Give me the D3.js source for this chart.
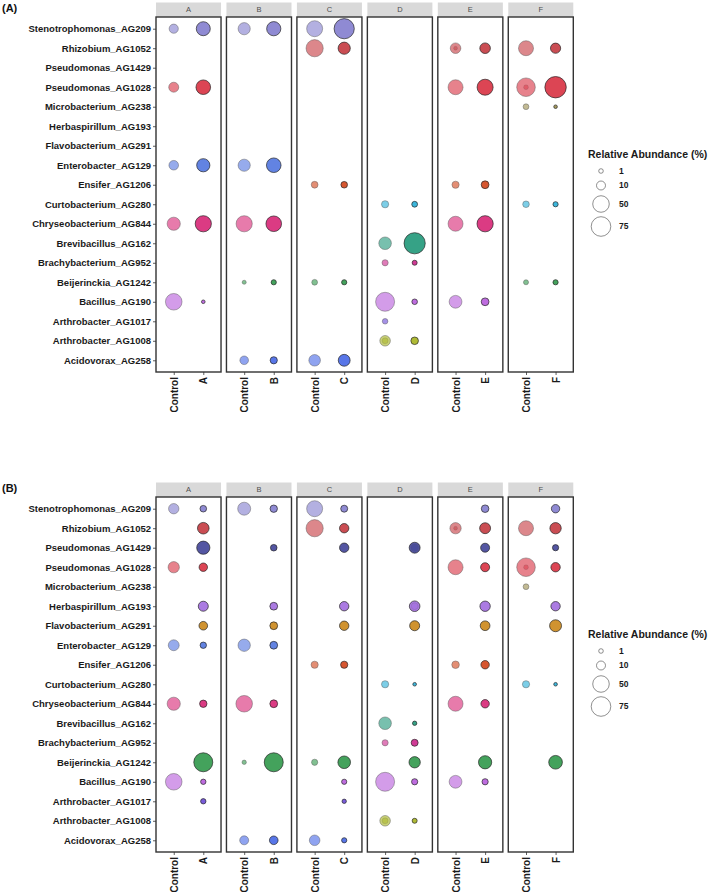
<!DOCTYPE html>
<html><head><meta charset="utf-8">
<script src="https://cdn.jsdelivr.net/npm/d3@7"></script>
<style>body{margin:0;background:#fff;} svg{display:block;font-family:"Liberation Sans",Arial,sans-serif;}</style>
</head><body>
<svg id="chart" width="709" height="895"></svg>
<script>
const species = ["Stenotrophomonas_AG209","Rhizobium_AG1052","Pseudomonas_AG1429","Pseudomonas_AG1028","Microbacterium_AG238","Herbaspirillum_AG193","Flavobacterium_AG291","Enterobacter_AG129","Ensifer_AG1206","Curtobacterium_AG280","Chryseobacterium_AG844","Brevibacillus_AG162","Brachybacterium_AG952","Beijerinckia_AG1242","Bacillus_AG190","Arthrobacter_AG1017","Arthrobacter_AG1008","Acidovorax_AG258"];
const speciesColors = ["#8580cf","#c63e44","#45489a","#d93545","#9c9050","#a470e0","#cc8a1e","#5578e0","#d2481e","#2bb0d8","#d82a78","#259a7c","#cc2a8c","#349a4e","#b860dc","#6e4ed6","#a8b424","#4a6ae6"];
const facets = ["A","B","C","D","E","F"];
const groups = ["Control","Treatment"];
const legendValues = [1,10,50,75];
const panelLabels = ["(A)","(B)"];

// [facet, group (C = Control, T = treatment), species, relative abundance %]
const panelAData = [
["A","C","Stenotrophomonas_AG209",10.7],["A","T","Stenotrophomonas_AG209",33.1],
["A","C","Pseudomonas_AG1028",13.6],["A","T","Pseudomonas_AG1028",36.7],
["A","C","Enterobacter_AG129",12.1],["A","T","Enterobacter_AG129",28.5],
["A","C","Chryseobacterium_AG844",28.5],["A","T","Chryseobacterium_AG844",47.5],
["A","C","Bacillus_AG190",50.4],["A","T","Bacillus_AG190",0.4],
["B","C","Stenotrophomonas_AG209",23.2],["B","T","Stenotrophomonas_AG209",34.3],
["B","C","Enterobacter_AG129",23.2],["B","T","Enterobacter_AG129",36.7],
["B","C","Chryseobacterium_AG844",47.5],["B","T","Chryseobacterium_AG844",43.3],
["B","C","Beijerinckia_AG1242",0.6],["B","T","Beijerinckia_AG1242",1.6],
["B","C","Acidovorax_AG258",8.8],["B","T","Acidovorax_AG258",5.1],
["C","C","Stenotrophomonas_AG209",46.1],["C","T","Stenotrophomonas_AG209",80.4],
["C","C","Rhizobium_AG1052",54.9],["C","T","Rhizobium_AG1052",23.2],
["C","C","Ensifer_AG1206",4.2],["C","T","Ensifer_AG1206",3.8],
["C","C","Beijerinckia_AG1242",2.4],["C","T","Beijerinckia_AG1242",1.6],
["C","C","Acidovorax_AG258",20.3],["C","T","Acidovorax_AG258",21.5],
["D","C","Curtobacterium_AG280",5.1],["D","T","Curtobacterium_AG280",2.4],
["D","C","Brevibacillus_AG162",25.3],["D","T","Brevibacillus_AG162",90],
["D","C","Brachybacterium_AG952",3.1],["D","T","Brachybacterium_AG952",1.4],
["D","C","Bacillus_AG190",69.6],["D","T","Bacillus_AG190",2.1],
["D","C","Arthrobacter_AG1017",2.1],
["D","C","Arthrobacter_AG1008",15.9],["D","T","Arthrobacter_AG1008",6.0],
["E","C","Rhizobium_AG1052",15.9],["E","T","Rhizobium_AG1052",15.9],
["E","C","Pseudomonas_AG1028",39.3],["E","T","Pseudomonas_AG1028",46.1],
["E","C","Ensifer_AG1206",5.1],["E","T","Ensifer_AG1206",6.5],
["E","C","Chryseobacterium_AG844",39.3],["E","T","Chryseobacterium_AG844",47.5],
["E","C","Bacillus_AG190",26.3],["E","T","Bacillus_AG190",6.5],
["F","C","Rhizobium_AG1052",39.3],["F","T","Rhizobium_AG1052",14.3],
["F","C","Pseudomonas_AG1028",66.2],["F","T","Pseudomonas_AG1028",92],
["F","C","Microbacterium_AG238",2.4],["F","T","Microbacterium_AG238",0.4],
["F","C","Curtobacterium_AG280",3.8],["F","T","Curtobacterium_AG280",1.6],
["F","C","Beijerinckia_AG1242",1.4],["F","T","Beijerinckia_AG1242",1.6]
];
// overlapping second replicate points (appear as darker inner circles)
const panelAOverlap = [
["E","C","Rhizobium_AG1052",0.5],
["F","C","Pseudomonas_AG1028",1.2],
["D","C","Arthrobacter_AG1008",2.8]
];

const panelBData = [
["A","C","Stenotrophomonas_AG209",15],["A","T","Stenotrophomonas_AG209",3.8],
["A","T","Rhizobium_AG1052",20.3],
["A","T","Pseudomonas_AG1429",28.5],
["A","C","Pseudomonas_AG1028",19],["A","T","Pseudomonas_AG1028",8.2],
["A","T","Herbaspirillum_AG193",13.6],
["A","T","Flavobacterium_AG291",8.8],
["A","C","Enterobacter_AG129",17.3],["A","T","Enterobacter_AG129",3.4],
["A","C","Chryseobacterium_AG844",28.5],["A","T","Chryseobacterium_AG844",5.5],
["A","T","Beijerinckia_AG1242",69.6],
["A","C","Bacillus_AG190",50.4],["A","T","Bacillus_AG190",1.8],
["A","T","Arthrobacter_AG1017",1.8],
["B","C","Stenotrophomonas_AG209",27.4],["B","T","Stenotrophomonas_AG209",5.5],
["B","T","Pseudomonas_AG1429",3.8],
["B","T","Herbaspirillum_AG193",6.5],
["B","T","Flavobacterium_AG291",6.5],
["B","C","Enterobacter_AG129",24],["B","T","Enterobacter_AG129",6.5],
["B","C","Chryseobacterium_AG844",50.4],["B","T","Chryseobacterium_AG844",6.5],
["B","C","Beijerinckia_AG1242",0.8],["B","T","Beijerinckia_AG1242",69.6],
["B","C","Acidovorax_AG258",10],["B","T","Acidovorax_AG258",8.8],
["C","C","Stenotrophomonas_AG209",46.1],["C","T","Stenotrophomonas_AG209",4.6],
["C","C","Rhizobium_AG1052",54.9],["C","T","Rhizobium_AG1052",11.3],
["C","T","Pseudomonas_AG1429",11.3],
["C","T","Herbaspirillum_AG193",11.3],
["C","T","Flavobacterium_AG291",11.3],
["C","C","Ensifer_AG1206",5.1],["C","T","Ensifer_AG1206",5.1],
["C","C","Beijerinckia_AG1242",3.1],["C","T","Beijerinckia_AG1242",25.3],
["C","T","Bacillus_AG190",1.6],
["C","T","Arthrobacter_AG1017",0.8],
["C","C","Acidovorax_AG258",15.9],["C","T","Acidovorax_AG258",1.6],
["D","T","Pseudomonas_AG1429",17.3],
["D","T","Herbaspirillum_AG193",15.9],
["D","T","Flavobacterium_AG291",13.6],
["D","C","Curtobacterium_AG280",5.1],["D","T","Curtobacterium_AG280",0.4],
["D","C","Brevibacillus_AG162",25.3],["D","T","Brevibacillus_AG162",0.8],
["D","C","Brachybacterium_AG952",3.1],["D","T","Brachybacterium_AG952",4.6],
["D","T","Beijerinckia_AG1242",19],
["D","C","Bacillus_AG190",69.6],["D","T","Bacillus_AG190",3.1],
["D","C","Arthrobacter_AG1008",15.9],["D","T","Arthrobacter_AG1008",1.4],
["E","T","Stenotrophomonas_AG209",6],
["E","C","Rhizobium_AG1052",19],["E","T","Rhizobium_AG1052",17.3],
["E","T","Pseudomonas_AG1429",10],
["E","C","Pseudomonas_AG1028",39.3],["E","T","Pseudomonas_AG1028",10],
["E","T","Herbaspirillum_AG193",15],
["E","T","Flavobacterium_AG291",12.5],
["E","C","Ensifer_AG1206",6],["E","T","Ensifer_AG1206",8.2],
["E","C","Chryseobacterium_AG844",39.3],["E","T","Chryseobacterium_AG844",8.2],
["E","T","Beijerinckia_AG1242",28.5],
["E","C","Bacillus_AG190",26.3],["E","T","Bacillus_AG190",3.1],
["F","T","Stenotrophomonas_AG209",8.2],
["F","C","Rhizobium_AG1052",39.3],["F","T","Rhizobium_AG1052",19],
["F","T","Pseudomonas_AG1429",3.1],
["F","C","Pseudomonas_AG1028",66.2],["F","T","Pseudomonas_AG1028",11.3],
["F","C","Microbacterium_AG238",2.4],
["F","T","Herbaspirillum_AG193",11.3],
["F","T","Flavobacterium_AG291",22],
["F","C","Curtobacterium_AG280",5.1],["F","T","Curtobacterium_AG280",0.4],
["F","T","Beijerinckia_AG1242",31]
];
const panelBOverlap = [
["D","T","Pseudomonas_AG1429",5.5],
["D","T","Herbaspirillum_AG193",4.2],
["E","C","Rhizobium_AG1052",0.5],
["F","C","Pseudomonas_AG1028",1.2],
["D","C","Arthrobacter_AG1008",2.8]
];

const svg = d3.select("#chart");
const color = d3.scaleOrdinal().domain(species).range(speciesColors);
const sizeNorm = d3.scaleLinear().domain([0.3, 92]).range([0, 1]).clamp(true);
const rOut = d3.scaleLinear().domain([0, 1]).range([1.5, 10.7]);
const rScale = v => rOut(Math.sqrt(sizeNorm(v)));

const facetX = d3.scaleBand().domain(facets).range([156, 573.3]).paddingInner(0.077).paddingOuter(0);
const fw = facetX.bandwidth();
const inX = d3.scalePoint().domain(groups).range([0, fw]).padding(0.6);

function drawPanel(offset, label, data, overlap) {
  const g = svg.append("g").attr("transform", `translate(0,${offset})`);
  const top = 17, bottom = 372;
  const y = d3.scalePoint().domain(species).range([top, bottom]).padding(0.6);

  g.append("text").attr("x", 2).attr("y", 11.5).attr("font-size", 11).attr("font-weight", "bold")
    .attr("fill", "#111").text(label);

  const yAxis = d3.axisLeft(y).tickSize(3).tickPadding(2);
  const ya = g.append("g").attr("transform", `translate(${facetX("A")},0)`).call(yAxis);
  ya.select(".domain").remove();
  ya.selectAll("line").attr("stroke", "#333").attr("stroke-width", 0.8);
  ya.selectAll("text").attr("font-size", 9.5).attr("font-weight", "bold").attr("fill", "#1a1a1a")
    .attr("font-family", "Liberation Sans, Arial, sans-serif");

  facets.forEach(f => {
    const fx = facetX(f);
    const fg = g.append("g").attr("transform", `translate(${fx},0)`);
    fg.append("rect").attr("x", 0).attr("y", 2.5).attr("width", fw).attr("height", top - 2.5).attr("fill", "#d9d9d9");
    fg.append("text").attr("x", fw / 2).attr("y", 9.8).attr("text-anchor", "middle").attr("dominant-baseline", "middle")
      .attr("font-size", 7.5).attr("fill", "#4d4d4d").text(f);
    fg.append("rect").attr("x", 0).attr("y", top).attr("width", fw).attr("height", bottom - top)
      .attr("fill", "#fff");

    const rows = data.filter(d => d[0] === f);
    fg.selectAll("circle.pt").data(rows).join("circle").attr("class", "pt")
      .attr("cx", d => inX(d[1] === "C" ? "Control" : "Treatment"))
      .attr("cy", d => y(d[2]))
      .attr("r", d => rScale(d[3]))
      .attr("fill", d => color(d[2]))
      .attr("fill-opacity", d => d[1] === "C" ? 0.62 : 0.92)
      .attr("stroke", d => d[1] === "C" ? "#555" : "#222")
      .attr("stroke-opacity", d => d[1] === "C" ? 0.75 : 0.9)
      .attr("stroke-width", d => d[1] === "C" ? 0.6 : 0.75);

    const ov = overlap.filter(d => d[0] === f);
    fg.selectAll("circle.ov").data(ov).join("circle").attr("class", "ov")
      .attr("cx", d => inX(d[1] === "C" ? "Control" : "Treatment"))
      .attr("cy", d => y(d[2]))
      .attr("r", d => rScale(d[3]))
      .attr("fill", d => color(d[2]))
      .attr("fill-opacity", d => d[1] === "C" ? 0.5 : 0.6)
      .attr("stroke", "#555")
      .attr("stroke-opacity", 0.35)
      .attr("stroke-width", 0.5);

    fg.append("rect").attr("x", 0).attr("y", top).attr("width", fw).attr("height", bottom - top)
      .attr("fill", "none").attr("stroke", "#333").attr("stroke-width", 1.4);

    const xAxis = d3.axisBottom(inX).tickSize(3).tickPadding(2).tickFormat(d => d === "Control" ? "Control" : f);
    const xa = fg.append("g").attr("transform", `translate(0,${bottom})`).call(xAxis);
    xa.select(".domain").remove();
    xa.selectAll("line").attr("stroke", "#333").attr("stroke-width", 0.8);
    xa.selectAll("text").attr("font-size", 10).attr("font-weight", "bold").attr("fill", "#1a1a1a")
      .attr("font-family", "Liberation Sans, Arial, sans-serif")
      .attr("text-anchor", "end").attr("transform", "rotate(-90)")
      .attr("x", -5).attr("y", 0).attr("dy", "0.35em");
  });

  const lg = g.append("g");
  lg.append("text").attr("x", 588).attr("y", 158).attr("font-size", 10.5).attr("font-weight", "bold")
    .attr("fill", "#1a1a1a").text("Relative Abundance (%)");
  const ly = d3.scaleOrdinal().domain(legendValues).range([171, 185.5, 204, 226.5]);
  const items = lg.selectAll("g.item").data(legendValues).join("g").attr("class", "item")
    .attr("transform", d => `translate(601,${ly(d)})`);
  items.append("circle").attr("r", d => rScale(d)).attr("fill", "#fff").attr("stroke", "#444").attr("stroke-width", 0.6);
  items.append("text").attr("x", 18).attr("dy", "0.35em").attr("font-size", 8.5).attr("font-weight", "bold")
    .attr("fill", "#1a1a1a").text(d => d);
}

drawPanel(0, panelLabels[0], panelAData, panelAOverlap);
drawPanel(480, panelLabels[1], panelBData, panelBOverlap);
</script>
</body></html>
